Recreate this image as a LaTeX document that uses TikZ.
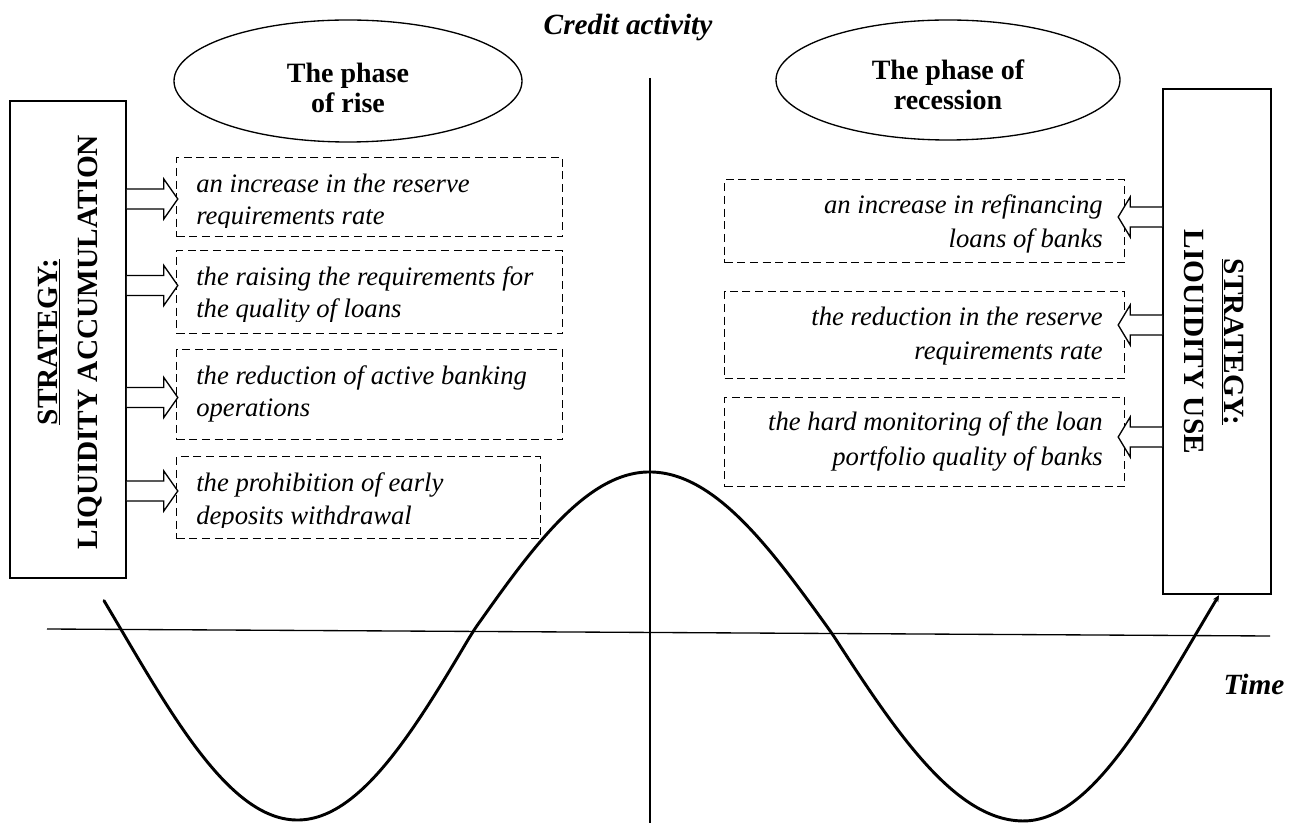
\documentclass[tikz,border=0pt]{standalone}
\usepackage{fontspec}
\setmainfont{Liberation Serif}
\usetikzlibrary{shapes.geometric,arrows.meta}
\begin{document}
\begin{tikzpicture}[x=0.75pt,y=-0.75pt,
  stratbox/.style={draw, line width=1.2pt, inner sep=0pt},
  strattext/.style={align=center, inner sep=0pt, font=\fontsize{22}{30}\selectfont\bfseries},
  phase/.style={draw, ellipse, line width=1pt, inner sep=0pt},
  phasetext/.style={align=center, inner sep=0pt, font=\fontsize{21}{22.5}\selectfont\bfseries},
  dbox/.style={draw, dash pattern=on 6pt off 3.5pt, line width=0.9pt, inner sep=0pt, anchor=north west},
  ltext/.style={align=left, inner sep=0pt, anchor=base west, font=\fontsize{20}{24.5}\selectfont\itshape},
  rtext/.style={align=right, inner sep=0pt, anchor=base east, font=\fontsize{20}{26}\selectfont\itshape},
  axis/.style={line width=1pt},
  fat/.style={line width=1pt, fill=white},
  wave/.style={line width=2.2pt, line cap=round, line join=round},
  title/.style={inner sep=0pt, font=\fontsize{22}{26}\selectfont\bfseries\itshape}
]
\useasboundingbox (0,0) rectangle (1296,823);

% axes
\coordinate (vtop) at (650,78);
\coordinate (vbot) at (650,823);
\coordinate (hl) at (47,629);
\coordinate (hr) at (1270,636);
\draw[axis] (vtop) -- (vbot);
\draw[axis] (hl) -- (hr);

\node[title] (credit) at (628,27) {Credit activity};
\node[title] (time) at (1254,684) {Time};

% phase ellipses
\node[phase, minimum width=261pt, minimum height=91.5pt] (rise) at (348,81) {};
\node[phasetext] (riset) at (348,88) {The phase\\of rise};
\node[phase, minimum width=258pt, minimum height=90pt] (recession) at (948,80) {};
\node[phasetext] (recessiont) at (948,85) {The phase of\\recession};

% strategy boxes
\node[stratbox, minimum width=87pt, minimum height=357.75pt] (L) at (68,339.5) {};
\node[strattext, rotate=90] (Lt) at (70,342) {\underline{STRATEGY:}\\LIQUIDITY ACCUMULATION};
\node[stratbox, minimum width=81pt, minimum height=378.75pt] (R) at (1217,341.5) {};
\node[strattext, rotate=-90] (Rt) at (1214,342) {\underline{STRATEGY:}\\LIOUIDITY USE};

% left dashed boxes
\node[dbox, minimum width=289.5pt, minimum height=59.25pt] (b1) at (176,157) {};
\node[dbox, minimum width=289.5pt, minimum height=62.25pt] (b2) at (176,250) {};
\node[dbox, minimum width=289.5pt, minimum height=67.5pt] (b3) at (176,349) {};
\node[dbox, minimum width=273pt, minimum height=61.5pt] (b4) at (176,456) {};

\begin{scope}
\clip (176,157) rectangle (562,228);
\node[ltext] (t1) at (196,225) {an increase in the reserve\\requirements rate};
\end{scope}
\begin{scope}
\clip (176,250) rectangle (562,322);
\node[ltext] (t2) at (196,318) {the raising the requirements for\\the quality of loans};
\end{scope}
\node[ltext] (t3) at (196,417) {the reduction of active banking\\operations};
\begin{scope}
\clip (176,456) rectangle (540,527);
\node[ltext] (t4) at (196,524) {the prohibition of early\\deposits withdrawal};
\end{scope}

% right dashed boxes
\node[dbox, minimum width=300pt, minimum height=62.25pt] (r1) at (724,179) {};
\node[dbox, minimum width=300pt, minimum height=65.25pt] (r2) at (724,291) {};
\node[dbox, minimum width=300pt, minimum height=66.75pt] (r3) at (724,397) {};
\node[rtext] (s1) at (1103,248) {an increase in refinancing\\loans of banks};
\node[rtext] (s2) at (1103,360) {the reduction in the reserve\\requirements rate};
\node[rtext] (s3) at (1103,465) {the hard monitoring of the loan\\portfolio quality of banks};

% hollow arrows from left strategy box
\foreach \y [evaluate=\y as \yt using \y-10] in {199,285.5,397.5,491}{
  \draw[fat] (L.east |- 0,\yt) -- ++(37,0) -- ++(0,-10) -- ++(14,20)
     -- ++(-14,20) -- ++(0,-10) -- ++(-37,0);
}
% hollow arrows from right strategy box
\foreach \y [evaluate=\y as \yt using \y-10] in {217,325,437}{
  \draw[fat] (R.west |- 0,\yt) -- ++(-32,0) -- ++(0,-10) -- ++(-12,20)
     -- ++(12,20) -- ++(0,-10) -- ++(32,0);
}

% wave (piecewise quarter-cosines around a slightly slanted midline)
\draw[wave, -{Stealth[length=5pt,width=4.5pt]}]
  plot[smooth, tension=0.5, domain=104:1219, samples=160]
  (\x, {629+(\x-47)/1223*7
    + (\x<473)*(189.6*cos((\x-297)/176*90))
    - (\x>=473)*(\x<650)*(160.5*cos((\x-650)/177*90))
    - (\x>=650)*(\x<832)*(160.5*cos((\x-650)/182*90))
    + (\x>=832)*(\x<1023)*(186.4*cos((\x-1023)/191*90))
    + (\x>=1023)*(186.4*cos((\x-1023)/172*90))});
\end{tikzpicture}
\end{document}
